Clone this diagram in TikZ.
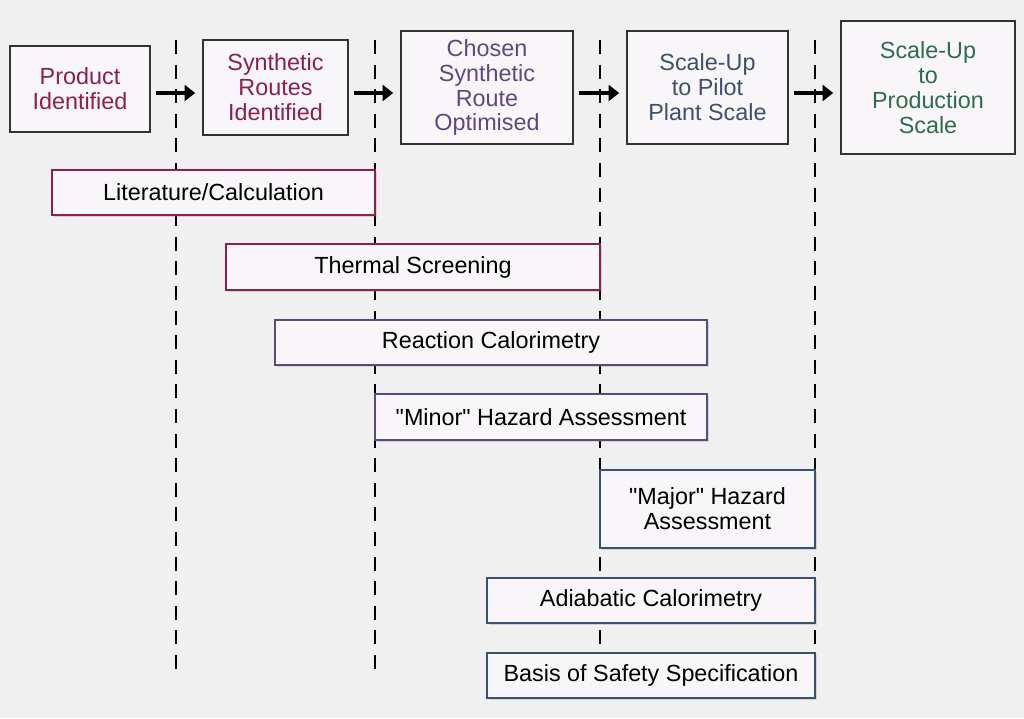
\documentclass[tikz,border=0pt]{standalone}
\usepackage{fontspec}
\setmainfont{Liberation Sans}
\usetikzlibrary{arrows.meta,shadows}
\definecolor{maroon}{HTML}{8B1F4E}
\definecolor{plum}{HTML}{5B4A7E}
\definecolor{slate}{HTML}{3E5070}
\definecolor{pine}{HTML}{2F6B4C}
\definecolor{bg}{HTML}{F0F0F0}
\definecolor{boxfill}{HTML}{F8F6F8}
\tikzset{
  stage/.style={draw=black!80, line width=0.9pt, fill=boxfill, align=center, inner sep=0pt},
  task/.style={draw=#1, line width=0.9pt, fill=boxfill, align=center, inner sep=0pt,
    drop shadow={shadow xshift=1pt, shadow yshift=-1pt, opacity=0.25}},
  flowarrow/.style={-{Triangle[length=6pt,width=9pt]}, line width=2.8pt},
  phase/.style={dashed, dash pattern=on 8pt off 6pt, line width=0.8pt}
}
\begin{document}
\begin{tikzpicture}[x=0.02cm,y=-0.02cm,font=\fontsize{13.3}{14.2}\selectfont]
  \fill[bg] (0,0) rectangle (1024,718);
  \useasboundingbox (0,0) rectangle (1024,718);
  % phase boundaries
  \coordinate (d1t) at (176,40);  \coordinate (d1b) at (176,678);
  \coordinate (d2t) at (375,40);  \coordinate (d2b) at (375,678);
  \coordinate (d3t) at (600,40);  \coordinate (d3b) at (600,678);
  \coordinate (d4t) at (815,40);  \coordinate (d4b) at (815,700);
  \foreach \i in {1,...,4} \draw[phase] (d\i t) -- (d\i b);
  % stages
  \node[stage, minimum width=2.8cm, minimum height=1.72cm, text=maroon] (product) at (80,89) {Product\\Identified};
  \node[stage, minimum width=2.9cm, minimum height=1.9cm, text=maroon] (routes) at (275.5,87.5) {Synthetic\\Routes\\Identified};
  \node[stage, minimum width=3.44cm, minimum height=2.26cm, text=plum] (chosen) at (487,87.5) {Chosen\\Synthetic\\Route\\Optimised};
  \node[stage, minimum width=3.22cm, minimum height=2.26cm, text=slate] (pilot) at (707.5,87.5) {Scale-Up\\to Pilot\\Plant Scale};
  \node[stage, minimum width=3.48cm, minimum height=2.66cm, text=pine] (production) at (928,87.5) {Scale-Up\\to\\Production\\Scale};
  \draw[flowarrow] ([xshift=3pt]product.east |- 0,93) -- ([xshift=-4pt]routes.west |- 0,93);
  \draw[flowarrow] ([xshift=3pt]routes.east |- 0,93) -- ([xshift=-4pt]chosen.west |- 0,93);
  \draw[flowarrow] ([xshift=3pt]chosen.east |- 0,93) -- ([xshift=-4pt]pilot.west |- 0,93);
  \draw[flowarrow] ([xshift=3pt]pilot.east |- 0,93) -- ([xshift=-4pt]production.west |- 0,93);
  % studies
  \node[task=maroon, minimum width=6.46cm, minimum height=0.9cm] (lit) at (213.5,192.5) {Literature/Calculation};
  \node[task=maroon, minimum width=7.48cm, minimum height=0.92cm] (thermal) at (413,267) {Thermal Screening};
  \node[task=plum, minimum width=8.64cm, minimum height=0.9cm] (reaction) at (491,342.5) {Reaction Calorimetry};
  \node[task=plum, minimum width=6.64cm, minimum height=0.92cm] (minor) at (541,417) {\textquotedbl Minor\textquotedbl{} Hazard Assessment};
  \node[task=slate, minimum width=4.3cm, minimum height=1.56cm] (major) at (707.5,509) {\textquotedbl Major\textquotedbl{} Hazard\\Assessment};
  \node[task=slate, minimum width=6.56cm, minimum height=0.9cm] (adiabatic) at (651,600.5) {Adiabatic Calorimetry};
  \node[task=slate, minimum width=6.56cm, minimum height=0.9cm] (basis) at (651,675.5) {Basis of Safety Specification};
\end{tikzpicture}
\end{document}
